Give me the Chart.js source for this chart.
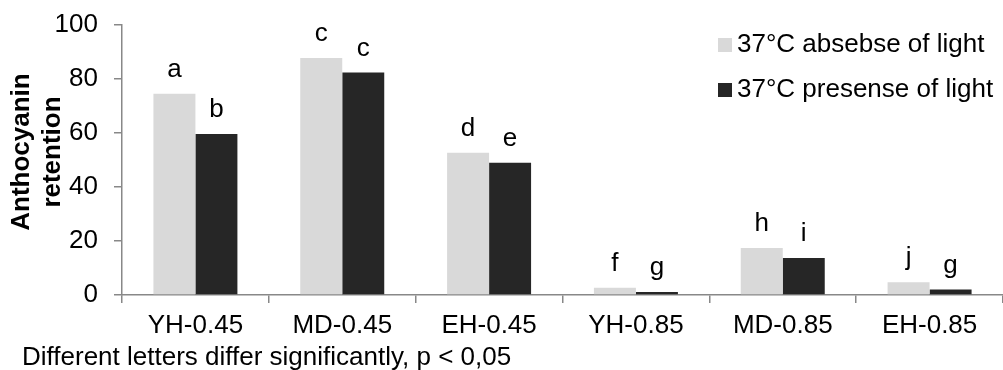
<!DOCTYPE html>
<html>
<head>
<meta charset="utf-8">
<script src="https://cdn.jsdelivr.net/npm/chart.js@4"></script>
<style>
  body { margin: 0; background: #fff; }
  canvas { display: block; }
</style>
</head>
<body>
<canvas id="chart" width="1003" height="370"></canvas>
<script>
const categories = ['YH-0.45', 'MD-0.45', 'EH-0.45', 'YH-0.85', 'MD-0.85', 'EH-0.85'];
const seriesNames = ['37°C absebse of light', '37°C presense of light'];
const absence = [74.5, 87.8, 52.7, 2.7, 17.4, 4.7];
const presence = [59.6, 82.4, 49.0, 1.1, 13.7, 2.0];
const lettersAbsence = ['a', 'c', 'd', 'f', 'h', 'j'];
const lettersPresence = ['b', 'c', 'e', 'g', 'i', 'g'];
const yMin = 0, yMax = 100, yStep = 20;
const yTitle = ['Anthocyanin', 'retention'];
const footnote = 'Different letters differ significantly, p < 0,05';

const FONT = '"Liberation Sans", Arial, sans-serif';
const colors = ['#d9d9d9', '#262626'];
const axisColor = '#888';

// letters above bars, axis title, legend box and footnote
const extras = {
  id: 'extras',
  afterDatasetsDraw(chart) {
    const c = chart.ctx;
    c.save();
    c.font = '26px ' + FONT;
    c.fillStyle = '#000';
    c.textAlign = 'center';
    c.textBaseline = 'alphabetic';
    [lettersAbsence, lettersPresence].forEach((letters, di) => {
      chart.getDatasetMeta(di).data.forEach((bar, i) => {
        c.fillText(letters[i], bar.x, bar.y - 17);
      });
    });

    // legend
    const rows = [52, 97];
    c.textAlign = 'left';
    seriesNames.forEach((name, i) => {
      c.fillStyle = colors[i];
      c.fillRect(718, rows[i] - 14, 14, 14);
      c.fillStyle = '#000';
      c.fillText(name, 737, rows[i]);
    });

    c.fillText(footnote, 22, 365);

    // rotated y title
    c.save();
    c.translate(0, 152);
    c.rotate(-Math.PI / 2);
    c.font = 'bold 26px ' + FONT;
    c.textAlign = 'center';
    c.textBaseline = 'middle';
    yTitle.forEach((t, i) => c.fillText(t, 0, 22 + i * 31));
    c.restore();

    c.restore();
  }
};

new Chart(document.getElementById('chart'), {
  type: 'bar',
  data: {
    labels: categories,
    datasets: [
      { label: seriesNames[0], data: absence, backgroundColor: colors[0] },
      { label: seriesNames[1], data: presence, backgroundColor: colors[1] }
    ]
  },
  options: {
    responsive: false,
    animation: false,
    layout: { padding: { top: 25, right: 0, bottom: 0, left: 0 } },
    datasets: {
      bar: { categoryPercentage: 0.572, barPercentage: 1.0 }
    },
    plugins: {
      legend: { display: false },
      tooltip: { enabled: false }
    },
    scales: {
      x: {
        afterFit: s => { s.height = 75; s.paddingLeft = 0; s.paddingRight = 0; },
        grid: { drawOnChartArea: false, drawTicks: true, tickLength: 8, color: axisColor, lineWidth: 1.5, offset: true },
        border: { color: axisColor, width: 1.5 },
        ticks: { color: '#000', font: { family: FONT, size: 26 }, padding: 7, maxRotation: 0, autoSkip: false }
      },
      y: {
        min: yMin,
        max: yMax,
        afterFit: s => { s.width = 122; s.paddingTop = 0; s.paddingBottom = 0; },
        grid: { drawOnChartArea: false, drawTicks: true, tickLength: 8, color: axisColor, lineWidth: 1.5 },
        border: { color: axisColor, width: 1.5 },
        ticks: { stepSize: yStep, color: '#000', font: { family: FONT, size: 26 }, padding: 16 }
      }
    }
  },
  plugins: [extras]
});
</script>
</body>
</html>
